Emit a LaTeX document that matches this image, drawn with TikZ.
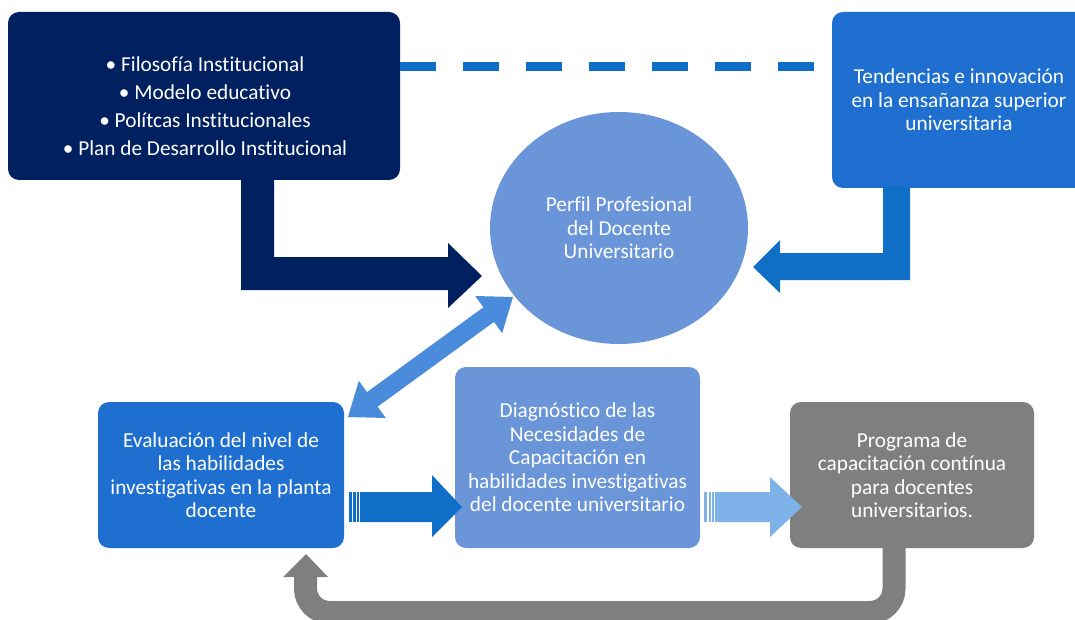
\documentclass[tikz,border=0pt]{standalone}
\usepackage{fontspec}
\setmainfont{Carlito}[Renderer=OpenType, Ligatures={NoCommon,NoContextual}]
\usetikzlibrary{shapes.geometric}
\newcommand{\nolig}{\kern0pt}
\definecolor{navy}{HTML}{002060}
\definecolor{midblue}{HTML}{1F6FD0}
\definecolor{lightblue}{HTML}{6A95D9}
\definecolor{arrowblue}{HTML}{0F6FC6}
\definecolor{dblblue}{HTML}{4A8BDB}
\definecolor{paleblue}{HTML}{7FB2E8}
\definecolor{greybox}{HTML}{7F7F7F}
\begin{document}
\begin{tikzpicture}[x=1pt,y=-1pt,
  txt/.style={text=white, align=center, inner sep=0pt, font=\fontsize{21.3}{23.5}\selectfont},
  boxbase/.style={rectangle, rounded corners=11pt, draw=none, inner sep=0pt, txt}]
\useasboundingbox (0,0) rectangle (1075,620);
\clip (0,0) rectangle (1075,620);

% ---- boxes ----
\node[boxbase, fill=navy, minimum width=392pt, minimum height=168pt] (tl) at (204,96) {};
\node[boxbase, fill=midblue, minimum width=254pt, minimum height=176pt] (tr) at (959,100)
  {Tendencias e innovación\\en la ensañanza superior\\universitaria};
\node[ellipse, fill=lightblue, draw=none, inner sep=0pt, minimum width=258pt, minimum height=232pt, txt] (perfil) at (619,228)
  {Perf\nolig il Profesional\\del Docente\\Universitario};
\node[boxbase, fill=midblue, minimum width=246pt, minimum height=146pt] (eval) at (221,475)
  {Evaluación del nivel de\\las habilidades\\invest\nolig igat\nolig ivas en la planta\\docente};
\node[boxbase, fill=lightblue, minimum width=245pt, minimum height=181pt] (diag) at (577.5,457.5)
  {Diagnóst\nolig ico de las\\Necesidades de\\Capacit\nolig ación en\\habilidades invest\nolig igat\nolig ivas\\del docente universitario};
\node[boxbase, fill=greybox, minimum width=244pt, minimum height=146pt] (prog) at (912,475)
  {Programa de\\capacit\nolig ación cont\nolig ínua\\para docentes\\universitarios.};

\node[txt, font=\fontsize{21.3}{28}\selectfont] (tltext) at (205,106)
  {• Filosofía Inst\nolig itucional\\• Modelo educat\nolig ivo\\• Polítcas Inst\nolig itucionales\\• Plan de Desarrollo Inst\nolig itucional};

% ---- dashed link ----
\draw[arrowblue, line width=9pt, dash pattern=on 36pt off 27pt] (tl.east |- 0,67) -- (tr.west |- 0,67);

% ---- navy bent arrow ----
\fill[navy] (241,170) -- (241,290) -- (448,290) -- (448,308) -- (482,276) -- (448,243) -- (448,257) -- (274,257) -- (274,170) -- cycle;

% ---- right bent arrow ----
\fill[arrowblue] (910,187) -- (910,280) -- (780,280) -- (780,293) -- (753,267) -- (780,240) -- (780,253) -- (883,253) -- (883,187) -- cycle;

% ---- double arrow ----
\fill[dblblue] (348,417) -- (385.8,418.0) -- (377.6,406.7) -- (494.0,321.9) -- (502.2,333.2) -- (513,297)
  -- (475.2,296.0) -- (483.4,307.3) -- (367.0,392.1) -- (358.8,380.8) -- cycle;

% ---- striped arrow eval -> diag ----
\fill[arrowblue] (349,492) rectangle (351.7,522);
\fill[arrowblue] (353.3,492) rectangle (355.5,522);
\fill[arrowblue] (357,492) rectangle (358.8,522);
\fill[arrowblue] (360,492) -- (432,492) -- (432,475) -- (462,507) -- (432,537) -- (432,522) -- (360,522) -- cycle;

% ---- striped arrow diag -> prog ----
\fill[paleblue] (704,492) rectangle (707,522);
\fill[paleblue] (708.5,492) rectangle (711,522);
\fill[paleblue] (712.2,492) rectangle (714,522);
\fill[paleblue] (715,492) -- (770,492) -- (770,477) -- (802,507) -- (770,537) -- (770,522) -- (715,522) -- cycle;

% ---- grey return arrow ----
\draw[greybox, line width=23pt, rounded corners=24pt] (894,540) -- (894,612.5) -- (305.5,612.5) -- (305.5,576);
\fill[greybox] (283,577) -- (328,577) -- (306,554) -- cycle;
\end{tikzpicture}
\end{document}
